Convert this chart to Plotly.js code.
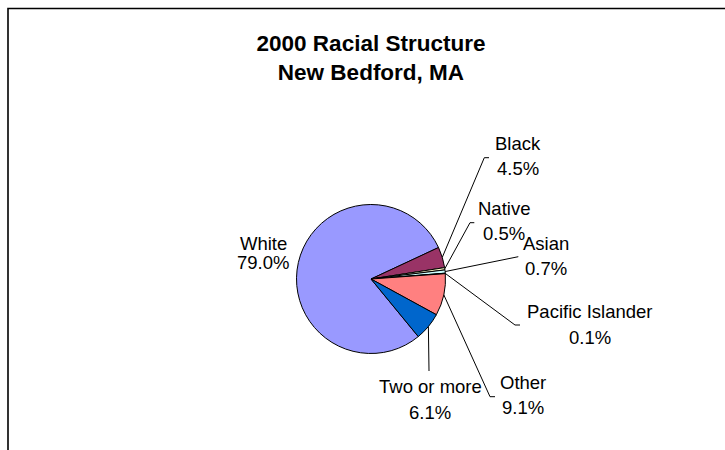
<!DOCTYPE html>
<html><head><meta charset="utf-8">
<script src="https://cdn.plot.ly/plotly-3.0.1.min.js"></script>
<style>html,body{margin:0;padding:0;background:#fff}#chart{width:725px;height:450px}</style>
</head><body><div id="chart"></div>
<script>
// ---- data ----
const categories = ['White', 'Black', 'Native', 'Asian', 'Pacific Islander', 'Other', 'Two or more'];
const percents = [79.0, 4.5, 0.5, 0.7, 0.1, 9.1, 6.1];
const sliceColors = ['#9999FF', '#993366', '#FFFFCC', '#CCFFFF', '#660066', '#FF8080', '#0066CC'];
const titleLines = ['2000 Racial Structure', 'New Bedford, MA'];

// ---- layout constants (pixels) ----
const W = 725, H = 450;
const CX = 371, CY = 279, R = 74.5;
const START = 140.6; // degrees clockwise from 12 o'clock
const FONT = 'Liberation Sans, Arial, sans-serif';
const labelPlacement = [
  {x: 263,   y1: 243.7, y2: 262.5, leader: []},
  {x: 517.5, y1: 143.7, y2: 168.3, leader: [[484.3, 157.7], [489, 157.7]]},
  {x: 504,   y1: 208.3, y2: 233,   leader: [[470, 222.7], [474.3, 222.7]]},
  {x: 546,   y1: 243.3, y2: 268.3, leader: [[518.3, 256.7]]},
  {x: 589.5, y1: 311.7, y2: 337,   leader: [[515, 325], [520, 325]]},
  {x: 522.5, y1: 382,   y2: 407.5, leader: [[490, 396.7], [495, 396.7]]},
  {x: 430,   y1: 386.7, y2: 412,   leader: [[429, 371]]}
];

const px = v => v / W;
const py = v => 1 - v / H;

const total = percents.reduce((a, b) => a + b, 0);
const annotations = [];
const shapes = [];
let acc = 0;
categories.forEach((cat, i) => {
  const mid = START + (acc + percents[i] / 2) / total * 360;
  acc += percents[i];
  const a = mid * Math.PI / 180;
  const ex = CX + R * Math.sin(a), ey = CY - R * Math.cos(a);
  const lp = labelPlacement[i];
  if (lp.leader.length) {
    let path = 'M' + px(ex) + ',' + py(ey);
    lp.leader.forEach(p => { path += ' L' + px(p[0]) + ',' + py(p[1]); });
    shapes.push({type: 'path', xref: 'paper', yref: 'paper', path: path,
                 line: {color: '#000', width: 1}});
  }
  annotations.push({xref: 'paper', yref: 'paper', x: px(lp.x), y: py(lp.y1), text: cat,
    showarrow: false, xanchor: 'center', yanchor: 'middle',
    font: {family: FONT, size: 18.5, color: '#000'}});
  annotations.push({xref: 'paper', yref: 'paper', x: px(lp.x), y: py(lp.y2),
    text: percents[i].toFixed(1) + '%',
    showarrow: false, xanchor: 'center', yanchor: 'middle',
    font: {family: FONT, size: 18.5, color: '#000'}});
});

// chart border (top and left edges visible)
shapes.push({type: 'rect', xref: 'paper', yref: 'paper',
  x0: px(8), x1: 1.05, y0: -0.05, y1: py(8.5), line: {color: '#000', width: 1.6}});

const trace = {
  type: 'pie',
  labels: categories,
  values: percents,
  sort: false,
  direction: 'clockwise',
  rotation: START,
  marker: {colors: sliceColors, line: {color: '#000', width: 1}},
  textinfo: 'none',
  hoverinfo: 'skip',
  domain: {x: [px(CX - R), px(CX + R)], y: [py(CY + R), py(CY - R)]}
};

const layout = {
  width: W, height: H,
  margin: {l: 0, r: 0, t: 0, b: 0},
  paper_bgcolor: '#fff',
  showlegend: false,
  title: {
    text: titleLines.join('<br>'),
    font: {family: FONT, size: 22.5, color: '#000', weight: 'bold'},
    x: px(371), xanchor: 'center', xref: 'container',
    y: 1 - 51 / H, yanchor: 'top', yref: 'container'
  },
  shapes: shapes,
  annotations: annotations
};

Plotly.newPlot('chart', [trace], layout, {displayModeBar: false, staticPlot: true});
</script></body></html>
